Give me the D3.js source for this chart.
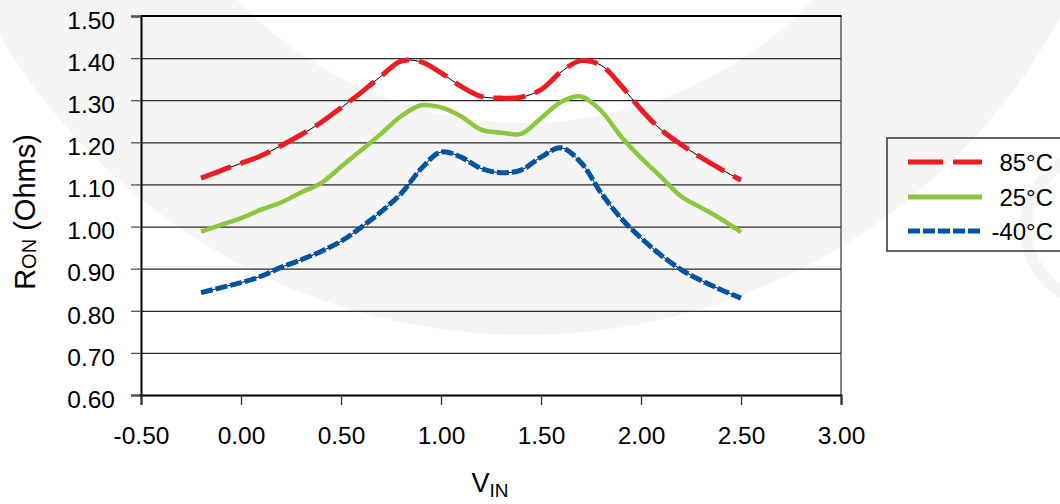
<!DOCTYPE html>
<html><head><meta charset="utf-8">
<script src="https://cdn.jsdelivr.net/npm/d3@7"></script>
<style>
html,body{margin:0;padding:0;background:#fff;}
svg{display:block;font-family:"Liberation Sans",Arial,sans-serif;}
</style></head>
<body>
<svg id="chart" width="1060" height="504"></svg>
<script>
// ---- data ----
const vin = [-0.2,-0.1,0.0,0.1,0.2,0.3,0.4,0.5,0.6,0.7,0.8,0.9,1.0,1.1,1.2,1.3,1.4,1.5,1.6,1.7,1.8,1.9,2.0,2.1,2.2,2.3,2.4,2.5];
const r85 = [1.115,1.133,1.150,1.168,1.192,1.218,1.247,1.282,1.318,1.357,1.393,1.391,1.365,1.333,1.309,1.305,1.307,1.325,1.367,1.394,1.383,1.335,1.278,1.230,1.195,1.164,1.136,1.110];
const r25 = [0.988,1.004,1.020,1.040,1.057,1.081,1.103,1.142,1.181,1.220,1.262,1.288,1.283,1.262,1.230,1.223,1.220,1.257,1.296,1.309,1.275,1.214,1.163,1.118,1.072,1.045,1.018,0.987];
const rm40 = [0.843,0.855,0.867,0.882,0.903,0.921,0.941,0.965,0.998,1.035,1.078,1.137,1.177,1.165,1.138,1.128,1.134,1.165,1.187,1.152,1.080,1.020,0.973,0.932,0.898,0.872,0.850,0.830];
const seriesNames = ["85°C","25°C","-40°C"];
const xTicks = [-0.5,0,0.5,1,1.5,2,2.5,3];
const yTicks = [0.6,0.7,0.8,0.9,1.0,1.1,1.2,1.3,1.4,1.5];

const svg = d3.select("#chart");

// ---- background watermark ----
const wm = svg.append("g");
const ring = d3.arc().innerRadius(398).outerRadius(610).startAngle(0).endAngle(2*Math.PI);
wm.append("path").attr("transform","translate(525,-275)").attr("d",ring()).attr("fill","#f5f5f5");
const ring2 = d3.arc().innerRadius(69).outerRadius(81).startAngle(0).endAngle(2*Math.PI);
wm.append("path").attr("transform","translate(1101,228)").attr("d",ring2()).attr("fill","#f5f5f5");

// ---- scales ----
const x = d3.scaleLinear().domain([-0.5,3]).range([141,841]);
const y = d3.scaleLinear().domain([0.6,1.5]).range([395,16]);

// gridlines
svg.append("g").attr("transform","translate(141,0)")
  .call(d3.axisLeft(y).tickValues(yTicks.slice(1,-1)).tickSize(-700).tickFormat(""))
  .call(g=>g.select(".domain").remove())
  .call(g=>g.selectAll("line").attr("stroke","#2a2a2a").attr("stroke-width",1.3));

// right border
svg.append("line").attr("x1",x(3)).attr("x2",x(3)).attr("y1",y(1.5)).attr("y2",y(0.6))
  .attr("stroke","#333").attr("stroke-width",1.2);
// top border
svg.append("line").attr("x1",x(-0.5)).attr("x2",x(3)+0.5).attr("y1",y(1.5)).attr("y2",y(1.5))
  .attr("stroke","#000").attr("stroke-width",2);

// y axis
const yAxis = svg.append("g").attr("transform","translate(141,0)")
  .call(d3.axisLeft(y).tickValues(yTicks).tickSize(10).tickPadding(16).tickFormat(d=>d.toFixed(2)));
yAxis.select(".domain").attr("stroke","#000").attr("stroke-width",2);
yAxis.selectAll("line").attr("stroke","#555").attr("stroke-width",1.3);
yAxis.selectAll("text").attr("font-size",24.5).attr("fill","#000").attr("dy","0.5em")
  .attr("font-family","'Liberation Sans',Arial,sans-serif");

// x axis
const xAxis = svg.append("g").attr("transform","translate(0,395)")
  .call(d3.axisBottom(x).tickValues(xTicks).tickSize(10).tickPadding(22).tickFormat(d=>d.toFixed(2)));
xAxis.select(".domain").attr("stroke","#000").attr("stroke-width",2);
xAxis.selectAll("line").attr("stroke","#333").attr("stroke-width",1.3);
xAxis.selectAll("text").attr("font-size",24.5).attr("fill","#000")
  .attr("font-family","'Liberation Sans',Arial,sans-serif");

// ---- lines ----
const line = d3.line().x(d=>x(d[0])).y(d=>y(d[1])).curve(d3.curveCatmullRom.alpha(0.5));
const d85 = vin.map((v,i)=>[v,r85[i]]);
const d25 = vin.map((v,i)=>[v,r25[i]]);
const dm40 = vin.map((v,i)=>[v,rm40[i]]);

// thin black under-lines
svg.append("path").attr("d",line(d85)).attr("fill","none").attr("stroke","#000").attr("stroke-width",1);
svg.append("path").attr("d",line(dm40)).attr("fill","none").attr("stroke","#000").attr("stroke-width",1);

svg.append("path").attr("d",line(d85)).attr("fill","none").attr("stroke","#ed1c24")
  .attr("stroke-width",5).attr("stroke-dasharray","32,10");
svg.append("path").attr("d",line(d25)).attr("fill","none").attr("stroke","#8dc63f")
  .attr("stroke-width",4.5);
svg.append("path").attr("d",line(dm40)).attr("fill","none").attr("stroke","#0054a6")
  .attr("stroke-width",5).attr("stroke-dasharray","12,3");

// ---- axis titles ----
const yt = svg.append("text").attr("transform","translate(35,212) rotate(-90)")
  .attr("text-anchor","middle").attr("font-size",29).attr("fill","#000");
yt.append("tspan").text("R");
yt.append("tspan").text("ON").attr("font-size",20).attr("dy",1);
yt.append("tspan").text(" (Ohms)").attr("dy",-1);

const xt = svg.append("text").attr("x",490).attr("y",492)
  .attr("text-anchor","middle").attr("font-size",27).attr("fill","#000");
xt.append("tspan").text("V");
xt.append("tspan").text("IN").attr("font-size",19).attr("dy",5);

// ---- legend ----
const lg = svg.append("g");
lg.append("rect").attr("x",887).attr("y",138).attr("width",200).attr("height",113)
  .attr("fill","none").attr("stroke","#333").attr("stroke-width",1.5);
const styles = [
  {c:"#ed1c24",w:5,da:"35,10"},
  {c:"#8dc63f",w:5,da:null},
  {c:"#0054a6",w:5,da:"12,3"}
];
const ly = [162,197,231];
seriesNames.forEach((n,i)=>{
  const l = lg.append("line").attr("x1",908).attr("x2",982).attr("y1",ly[i]).attr("y2",ly[i])
    .attr("stroke",styles[i].c).attr("stroke-width",styles[i].w);
  if(styles[i].da) l.attr("stroke-dasharray",styles[i].da);
  lg.append("text").attr("x",1053).attr("y",ly[i]+9).attr("text-anchor","end")
    .attr("font-size",24).attr("fill","#000").text(n);
});
</script>
</body></html>
